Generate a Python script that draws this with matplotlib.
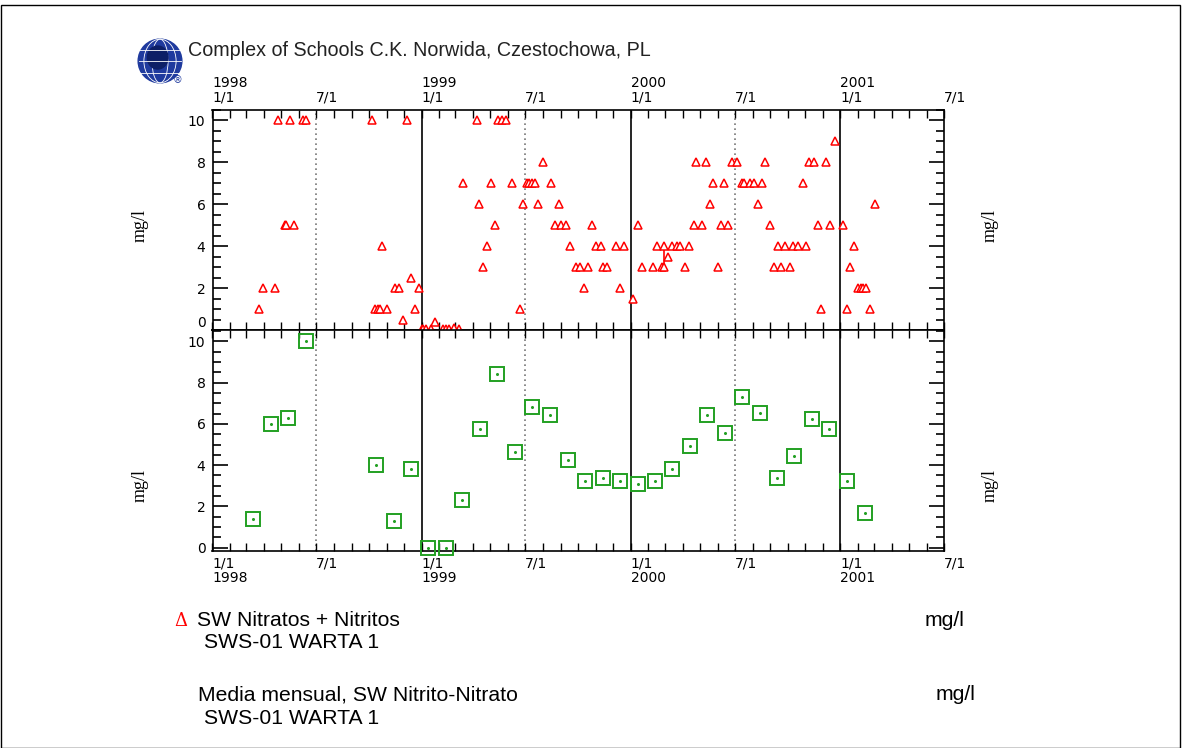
import matplotlib
matplotlib.use('Agg')
import matplotlib.pyplot as plt
import matplotlib.dates as mdates
from matplotlib.ticker import MultipleLocator
from matplotlib.patches import Rectangle, Circle, Ellipse
import pandas as pd

# individual samples (top panel)
top_dates = [
    '1998-03-23', '1998-03-30', '1998-04-20', '1998-04-26', '1998-05-08', '1998-05-10',
    '1998-05-17', '1998-05-24', '1998-06-08', '1998-06-14', '1998-10-06', '1998-10-11',
    '1998-10-17', '1998-10-20', '1998-10-24', '1998-11-02', '1998-11-15', '1998-11-22',
    '1998-11-30', '1998-12-06', '1998-12-13', '1998-12-21', '1998-12-27',
    '1999-01-01', '1999-01-03', '1999-01-09', '1999-01-17', '1999-01-24', '1999-02-07',
    '1999-02-13', '1999-02-18', '1999-02-27', '1999-03-07', '1999-03-14', '1999-04-07',
    '1999-04-12', '1999-04-18', '1999-04-25', '1999-05-03', '1999-05-10', '1999-05-15',
    '1999-05-22', '1999-05-29', '1999-06-08', '1999-06-22', '1999-06-27', '1999-07-04',
    '1999-07-08', '1999-07-13', '1999-07-18', '1999-07-24', '1999-08-01', '1999-08-15',
    '1999-08-22', '1999-08-29', '1999-09-02', '1999-09-10', '1999-09-17', '1999-09-27',
    '1999-10-05', '1999-10-12', '1999-10-19', '1999-10-26', '1999-11-01', '1999-11-10',
    '1999-11-14', '1999-11-21', '1999-12-06', '1999-12-13', '1999-12-20',
    '2000-01-05', '2000-01-13', '2000-01-20', '2000-02-09', '2000-02-16', '2000-02-24',
    '2000-02-29', '2000-02-29', '2000-03-07', '2000-03-14', '2000-03-22', '2000-03-28',
    '2000-04-05', '2000-04-12', '2000-04-20', '2000-04-24', '2000-05-05', '2000-05-11',
    '2000-05-18', '2000-05-24', '2000-06-01', '2000-06-06', '2000-06-12', '2000-06-19',
    '2000-06-26', '2000-07-05', '2000-07-14', '2000-07-17', '2000-07-27', '2000-08-03',
    '2000-08-11', '2000-08-18', '2000-08-23', '2000-08-31', '2000-09-07', '2000-09-14',
    '2000-09-20', '2000-09-27', '2000-10-05', '2000-10-10', '2000-10-19', '2000-10-27',
    '2000-11-02', '2000-11-08', '2000-11-16', '2000-11-23', '2000-11-29', '2000-12-07',
    '2000-12-14', '2000-12-22',
    '2001-01-05', '2001-01-12', '2001-01-18', '2001-01-25', '2001-01-31', '2001-02-06',
    '2001-02-10', '2001-02-15', '2001-02-22', '2001-03-02',
]
top_vals = [
    1, 2, 2, 10, 5, 5,
    10, 5, 10, 10, 10, 1,
    1, 1, 4, 1, 2, 2,
    0.5, 10, 2.5, 1, 2,
    0.05, 0.05, 0.05, 0.05, 0.4, 0.05,
    0.05, 0.05, 0.1, 0.05, 7, 10,
    6, 3, 4, 7, 5, 10,
    10, 10, 7, 1, 6, 7,
    7, 7, 7, 6, 8, 7,
    5, 6, 5, 5, 4, 3,
    3, 2, 3, 5, 4, 4,
    3, 3, 4, 2, 4,
    1.5, 5, 3, 3, 4, 3,
    4, 3, 3.5, 4, 4, 4,
    3, 4, 5, 8, 5, 8,
    6, 7, 3, 5, 7, 5,
    8, 8, 7, 7, 7, 7,
    6, 7, 8, 5, 3, 4,
    3, 4, 3, 4, 4, 7,
    4, 8, 8, 5, 1, 8,
    5, 9,
    5, 1, 3, 4, 2, 2,
    2, 2, 1, 6,
]
# duplicate sample joined by a line
dup_date = '2000-02-29'
dup_low, dup_high = 3, 4

# monthly means (bottom panel)
mean_dates = [
    '1998-03-13', '1998-04-13', '1998-05-13', '1998-06-13', '1998-10-13', '1998-11-13',
    '1998-12-13', '1999-01-13', '1999-02-13', '1999-03-13', '1999-04-13', '1999-05-13',
    '1999-06-13', '1999-07-13', '1999-08-13', '1999-09-13', '1999-10-13', '1999-11-13',
    '1999-12-13', '2000-01-13', '2000-02-13', '2000-03-13', '2000-04-13', '2000-05-13',
    '2000-06-13', '2000-07-13', '2000-08-13', '2000-09-13', '2000-10-13', '2000-11-13',
    '2000-12-13', '2001-01-13', '2001-02-13',
]
mean_vals = [
    1.4, 6.0, 6.3, 10.0, 4.0, 1.3,
    3.8, 0.0, 0.0, 2.3, 5.75, 8.4,
    4.65, 6.8, 6.45, 4.25, 3.25, 3.4,
    3.25, 3.1, 3.25, 3.8, 4.95, 6.45,
    5.55, 7.3, 6.55, 3.4, 4.45, 6.25,
    5.75, 3.25, 1.7,
]

label_dates = ['1998-01-01', '1998-07-01', '1999-01-01', '1999-07-01',
               '2000-01-01', '2000-07-01', '2001-01-01', '2001-07-01']
top_labels = ['1998\n1/1', '7/1', '1999\n1/1', '7/1', '2000\n1/1', '7/1', '2001\n1/1', '7/1']
bottom_labels = ['1/1\n1998', '7/1', '1/1\n1999', '7/1', '1/1\n2000', '7/1', '1/1\n2001', '7/1']
year_lines = ['1999-01-01', '2000-01-01', '2001-01-01']
half_lines = ['1998-07-01', '1999-07-01', '2000-07-01']
y_ticks = [0, 2, 4, 6, 8, 10]

W, H = 1184, 748


def fx(px):
    return px / W


def fy(py):
    return 1 - py / H


fig = plt.figure(figsize=(W / 100, H / 100), dpi=100)
ax1 = fig.add_axes([fx(212.5), fy(330), (944 - 212.5) / W, (330 - 110) / H])
ax2 = fig.add_axes([fx(212.5), fy(551), (944 - 212.5) / W, (551 - 330) / H])

td = pd.to_datetime(top_dates)
md = pd.to_datetime(mean_dates)
ld = pd.to_datetime(label_dates)

for ax in (ax1, ax2):
    ax.set_xlim(pd.Timestamp('1998-01-01'), pd.Timestamp('2001-07-01'))
    for d in pd.to_datetime(year_lines):
        ax.axvline(d, color='black', lw=1.2, zorder=1)
    for d in pd.to_datetime(half_lines):
        ax.axvline(d, color='#777777', lw=1.2, ls=(0, (1, 2)), zorder=1)
    ax.xaxis.set_minor_locator(mdates.MonthLocator())
    ax.set_xticks(ld)
    ax.tick_params(axis='x', which='both', direction='in', top=True, bottom=True,
                   length=6, width=1, labelsize=10, pad=4)
    ax.set_yticks(y_ticks)
    ax.yaxis.set_minor_locator(MultipleLocator(0.5))
    ax.tick_params(axis='y', which='major', direction='in', left=True, right=True,
                   length=11, width=1.2, labelsize=10, pad=5)
    ax.tick_params(axis='y', which='minor', direction='in', left=True, right=True,
                   length=6, width=1.2)
    for s in ax.spines.values():
        s.set_linewidth(1.2)

ax1.set_ylim(0, 10.5)
ax2.set_ylim(-0.16, 10.55)
# the lowest label of the top panel sits just above the panel join
ax1.get_yticklabels()[0].set_va('bottom')

ax1.set_xticklabels(top_labels, ha='left', linespacing=1.0)
ax1.tick_params(axis='x', labeltop=True, labelbottom=False)
ax2.set_xticklabels(bottom_labels, ha='left', linespacing=1.0)

ax1.plot(td, top_vals, ls='none', marker='^', ms=5.5, mfc='white', mec='red',
         mew=1.1, clip_on=False, zorder=3)
ax1.vlines(pd.Timestamp(dup_date), dup_low, dup_high, color='red', lw=1.2, zorder=2)

green = '#22a022'
ax2.plot(md, mean_vals, ls='none', marker='s', ms=10.5, mfc='none', mec=green,
         mew=1.4, clip_on=False, zorder=3)
ax2.plot(md, mean_vals, ls='none', marker='o', ms=1.2, color=green,
         clip_on=False, zorder=3)

# axis titles
for yc in (225, 485):
    fig.text(fx(140), fy(yc), 'mg/l', rotation=90, ha='center', va='center',
             family='Liberation Serif', fontsize=13)
    fig.text(fx(990), fy(yc), 'mg/l', rotation=90, ha='center', va='center',
             family='Liberation Serif', fontsize=13)

# header
fig.text(fx(188), fy(50), 'Complex of Schools C.K. Norwida, Czestochowa, PL',
         ha='left', va='center', family='Liberation Sans', fontsize=14.2, color='#222222')
logo = fig.add_axes([fx(137), fy(84), 46 / W, 46 / H])
logo.set_xlim(-1, 1)
logo.set_ylim(-1, 1)
logo.axis('off')
logo.add_patch(Circle((0, 0), 0.95, color='#1f3a9e'))
for r in (0.35, 0.7):
    logo.add_patch(Ellipse((0, 0), 2 * r, 1.9, fill=False, ec='white', lw=0.6))
for yy in (-0.5, 0.0, 0.5):
    logo.plot([-0.9, 0.9], [yy, yy], color='white', lw=0.6)
logo.add_patch(Ellipse((-0.1, 0.15), 0.9, 1.0, color='#0d1f66'))
fig.text(fx(178), fy(80), '\u00ae', ha='center', va='center', fontsize=7,
         color='#1f3a9e')

# legend block
leg_font = 'Liberation Sans'
leg_size = 15.2
fig.text(fx(181), fy(621), '\u0394', ha='center', va='center', color='red',
         fontsize=13, family='DejaVu Serif')
fig.text(fx(197), fy(621), 'SW Nitratos + Nitritos', ha='left', va='center',
         family=leg_font, fontsize=leg_size)
fig.text(fx(204), fy(643), 'SWS-01 WARTA 1', ha='left', va='center',
         family=leg_font, fontsize=leg_size)
fig.text(fx(964), fy(621), 'mg/l', ha='right', va='center', family=leg_font,
         fontsize=leg_size)
fig.text(fx(198), fy(695), 'Media mensual, SW Nitrito-Nitrato', ha='left', va='center',
         family=leg_font, fontsize=leg_size)
fig.text(fx(204), fy(719), 'SWS-01 WARTA 1', ha='left', va='center',
         family=leg_font, fontsize=leg_size)
fig.text(fx(975), fy(695), 'mg/l', ha='right', va='center', family=leg_font,
         fontsize=leg_size)

# outer frame
fig.add_artist(Rectangle((fx(1), 0), fx(1180) - fx(1), fy(5), transform=fig.transFigure,
                         fill=False, ec='black', lw=1.0))

fig.savefig('out.png', dpi=100)
